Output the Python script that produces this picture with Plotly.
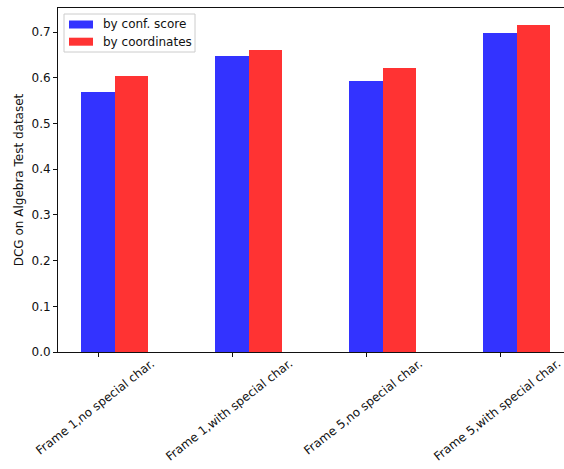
import plotly.graph_objects as go

categories = ["Frame 1,no special char.", "Frame 1,with special char.",
              "Frame 5,no special char.", "Frame 5,with special char."]
conf_score = [0.569, 0.648, 0.594, 0.698]
coordinates = [0.605, 0.661, 0.622, 0.715]
series_names = ["by conf. score", "by coordinates"]
y_ticks = [0.0, 0.1, 0.2, 0.3, 0.4, 0.5, 0.6, 0.7]

BLUE = "#3333ff"
RED = "#ff3333"
INK = "#111111"
FONT = "DejaVu Sans"
FS = 12
W, H = 564, 469
L, R, T, B = 58, 564, 8, 352
bar_w = 0.25

idx = list(range(len(categories)))

fig = go.Figure()
fig.add_trace(go.Bar(x=idx, y=conf_score, width=bar_w, marker_color=BLUE,
                     marker_line_width=0, name=series_names[0], showlegend=False))
fig.add_trace(go.Bar(x=[i + bar_w for i in idx], y=coordinates, width=bar_w,
                     marker_color=RED, marker_line_width=0, name=series_names[1],
                     showlegend=False))


def px(x):
    return (x - L) / (R - L)


def py(y):
    return (B - y) / (B - T)


# legend box drawn in paper coordinates
shapes = [
    dict(type="rect", xref="paper", yref="paper", x0=px(64), x1=px(195),
         y0=py(52), y1=py(14), line=dict(color="#cccccc", width=1),
         fillcolor="rgba(255,255,255,0.8)", layer="above"),
]
annotations = []
for k, (name, col) in enumerate(zip(series_names, [BLUE, RED])):
    yc = 24.5 + k * 17.2
    shapes.append(dict(type="rect", xref="paper", yref="paper", x0=px(69), x1=px(93),
                       y0=py(yc + 4), y1=py(yc - 4), line=dict(width=0),
                       fillcolor=col, layer="above"))
    annotations.append(dict(xref="paper", yref="paper", x=px(101), y=py(yc),
                            text=name, showarrow=False, xanchor="left",
                            yanchor="middle", font=dict(family=FONT, size=FS, color=INK)))

# rotated category labels, centred under each tick
for i, cat in zip(idx, categories):
    annotations.append(dict(xref="x", yref="paper", x=i, y=py(355), text=cat,
                            textangle=-38, showarrow=False, xanchor="center",
                            yanchor="top", xshift=-3, borderpad=0,
                            font=dict(family=FONT, size=FS, color=INK)))

x_span = (R - L) / 134.0
fig.update_layout(
    width=W, height=H,
    margin=dict(l=L, r=W - R, t=T, b=H - B),
    plot_bgcolor="white", paper_bgcolor="white",
    barmode="overlay", bargap=0,
    font=dict(family=FONT, size=FS, color=INK),
    shapes=shapes, annotations=annotations,
    xaxis=dict(range=[-0.3, -0.3 + x_span], tickvals=idx, showticklabels=False,
               showgrid=False, zeroline=False,
               showline=True, mirror=True, linecolor=INK, linewidth=1,
               ticks="outside", ticklen=4, tickcolor=INK),
    yaxis=dict(range=[0, 0.753], tickvals=y_ticks, tickformat=".1f",
               showgrid=False, zeroline=False, showline=True, linecolor=INK,
               linewidth=1, ticks="outside", ticklen=4, tickcolor=INK,
               tickfont=dict(family=FONT, size=FS, color=INK),
               title=dict(text="DCG on Algebra Test dataset", standoff=5,
                          font=dict(family=FONT, size=FS, color=INK))),
)

fig.write_html("out.html")
